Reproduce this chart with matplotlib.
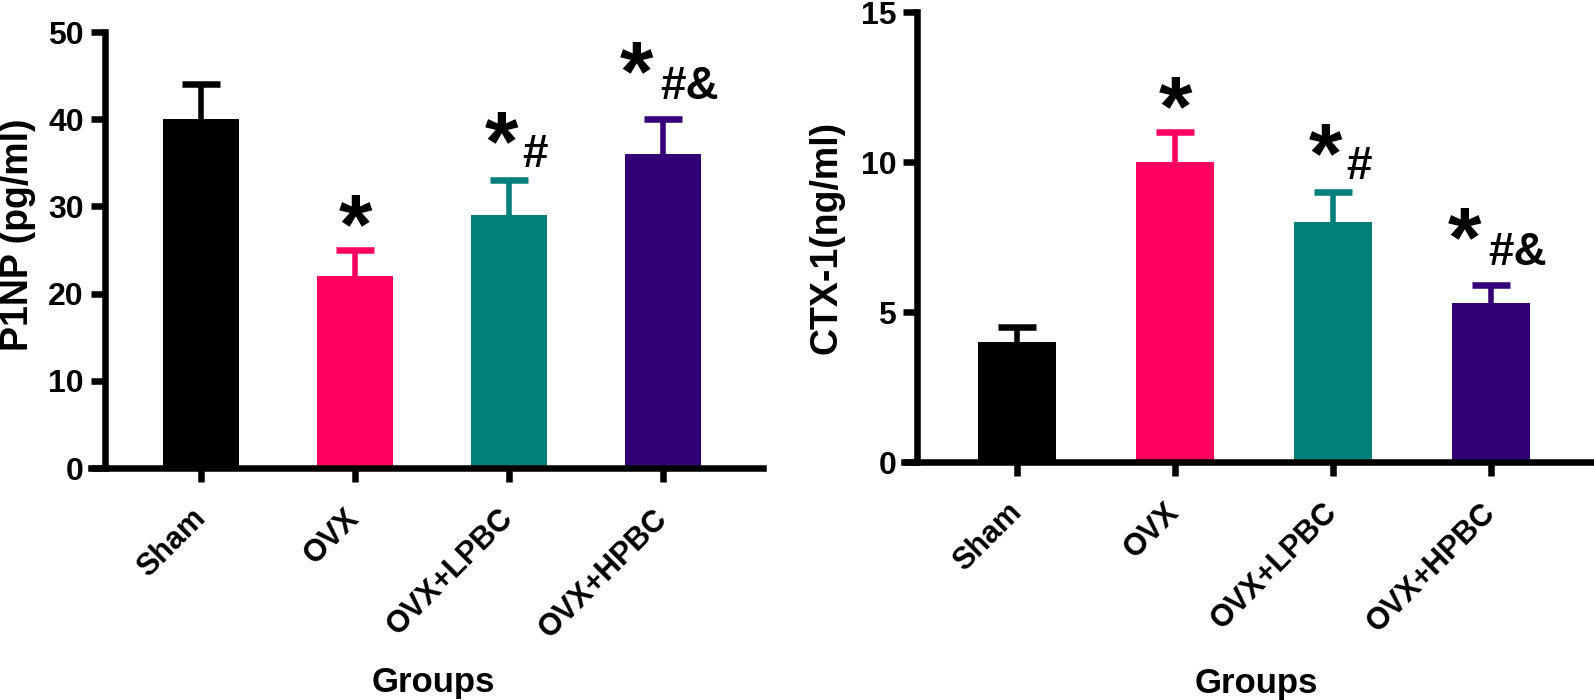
import matplotlib
matplotlib.use("Agg")
import matplotlib.pyplot as plt
import numpy as np

plt.rcParams['font.family'] = ['Liberation Sans', 'DejaVu Sans']
plt.rcParams['font.weight'] = 'bold'

groups = ["Sham", "OVX", "OVX+LPBC", "OVX+HPBC"]
colors = ["#000000", "#FF0060", "#007F7B", "#330077"]

p1np_mean = [40, 22, 29, 36]
p1np_err = [4, 3, 4, 4]
p1np_marks = ["", "*", "*#", "*#&"]

ctx_mean = [4.0, 10.0, 8.0, 5.3]
ctx_err = [0.5, 1.0, 1.0, 0.6]
ctx_marks = ["", "*", "*#", "*#&"]

LW = 4.7
W, H = 1594, 700
fig = plt.figure(figsize=(W / 100, H / 100), dpi=100)

# annotation offsets (pixels): star dx, star glyph-bottom dy, sub dx, sub dy
ann_style = {
    "*": (1, 33, 0, 0),
    "*#": (-7.5, 46, 13, 13),
    "*#&": (-26.5, 55, -3, 20),
}
STAR_FS = 62
SUB_FS = 33
STAR_BASE = 0.42 * STAR_FS / 0.72  # glyph bottom above baseline (px)


def panel(rect, means, errs, marks, ylim, yticks, ylabel, spine_x, label_xy):
    ax = fig.add_axes(rect)
    x = np.arange(len(groups))
    ax.bar(x, means, width=0.49, color=colors, zorder=2)
    for i in range(len(groups)):
        _, caps, _ = ax.errorbar(x[i], means[i], yerr=[[0], [errs[i]]], fmt='none',
                                 ecolor=colors[i], elinewidth=LW * 0.85, capsize=14,
                                 capthick=LW, zorder=1)
        caps[0].set_visible(False)
    ax.set_xlim(-0.714, 3.65)
    ax.set_ylim(*ylim)
    ax.set_yticks(yticks)
    ax.set_xticks(x)
    ax.set_xticklabels(groups, rotation=45, ha='right', va='center',
                       rotation_mode='anchor', fontsize=22, fontweight='bold')
    ax.tick_params(axis='x', length=10, width=LW, pad=23)
    ax.tick_params(axis='y', length=10, width=LW, pad=5, labelsize=23)
    for s in ['top', 'right']:
        ax.spines[s].set_visible(False)
    for s in ['left', 'bottom']:
        ax.spines[s].set_linewidth(LW)
        ax.spines[s].set_capstyle('projecting')
    ax.spines['left'].set_position(('data', spine_x))
    ax.set_ylabel(ylabel, fontsize=27, fontweight='bold')
    ax.yaxis.set_label_coords(*label_xy)
    ax.set_xlabel("Groups", fontsize=25, fontweight='bold', va='top')
    ax.xaxis.set_label_coords(0.51, -0.455)
    for i, m in enumerate(marks):
        if not m:
            continue
        sdx, sdy, bdx, bdy = ann_style[m]
        top = means[i] + errs[i]
        ax.annotate("*", xy=(x[i], top), xytext=(sdx, sdy - STAR_BASE),
                    textcoords='offset pixels', ha='center', va='baseline',
                    fontsize=STAR_FS, fontweight='bold')
        if len(m) > 1:
            ax.annotate(m[1:], xy=(x[i], top), xytext=(bdx, bdy),
                        textcoords='offset pixels', ha='left', va='baseline',
                        fontsize=SUB_FS, fontweight='bold')
    return ax


panel([91 / W, 1 - 468 / H, (763 - 91) / W, (468 - 32) / H],
      p1np_mean, p1np_err, p1np_marks, (0, 50), [0, 10, 20, 30, 40, 50],
      "P1NP (pg/ml)", -0.626, (-0.082, 0.536))
panel([904 / W, 1 - 462 / H, (1594 - 904) / W, (462 - 12) / H],
      ctx_mean, ctx_err, ctx_marks, (0, 15), [0, 5, 10, 15],
      "CTX-1(ng/ml)", -0.632, (-0.086, 0.5))

fig.savefig("out.png", dpi=100)
